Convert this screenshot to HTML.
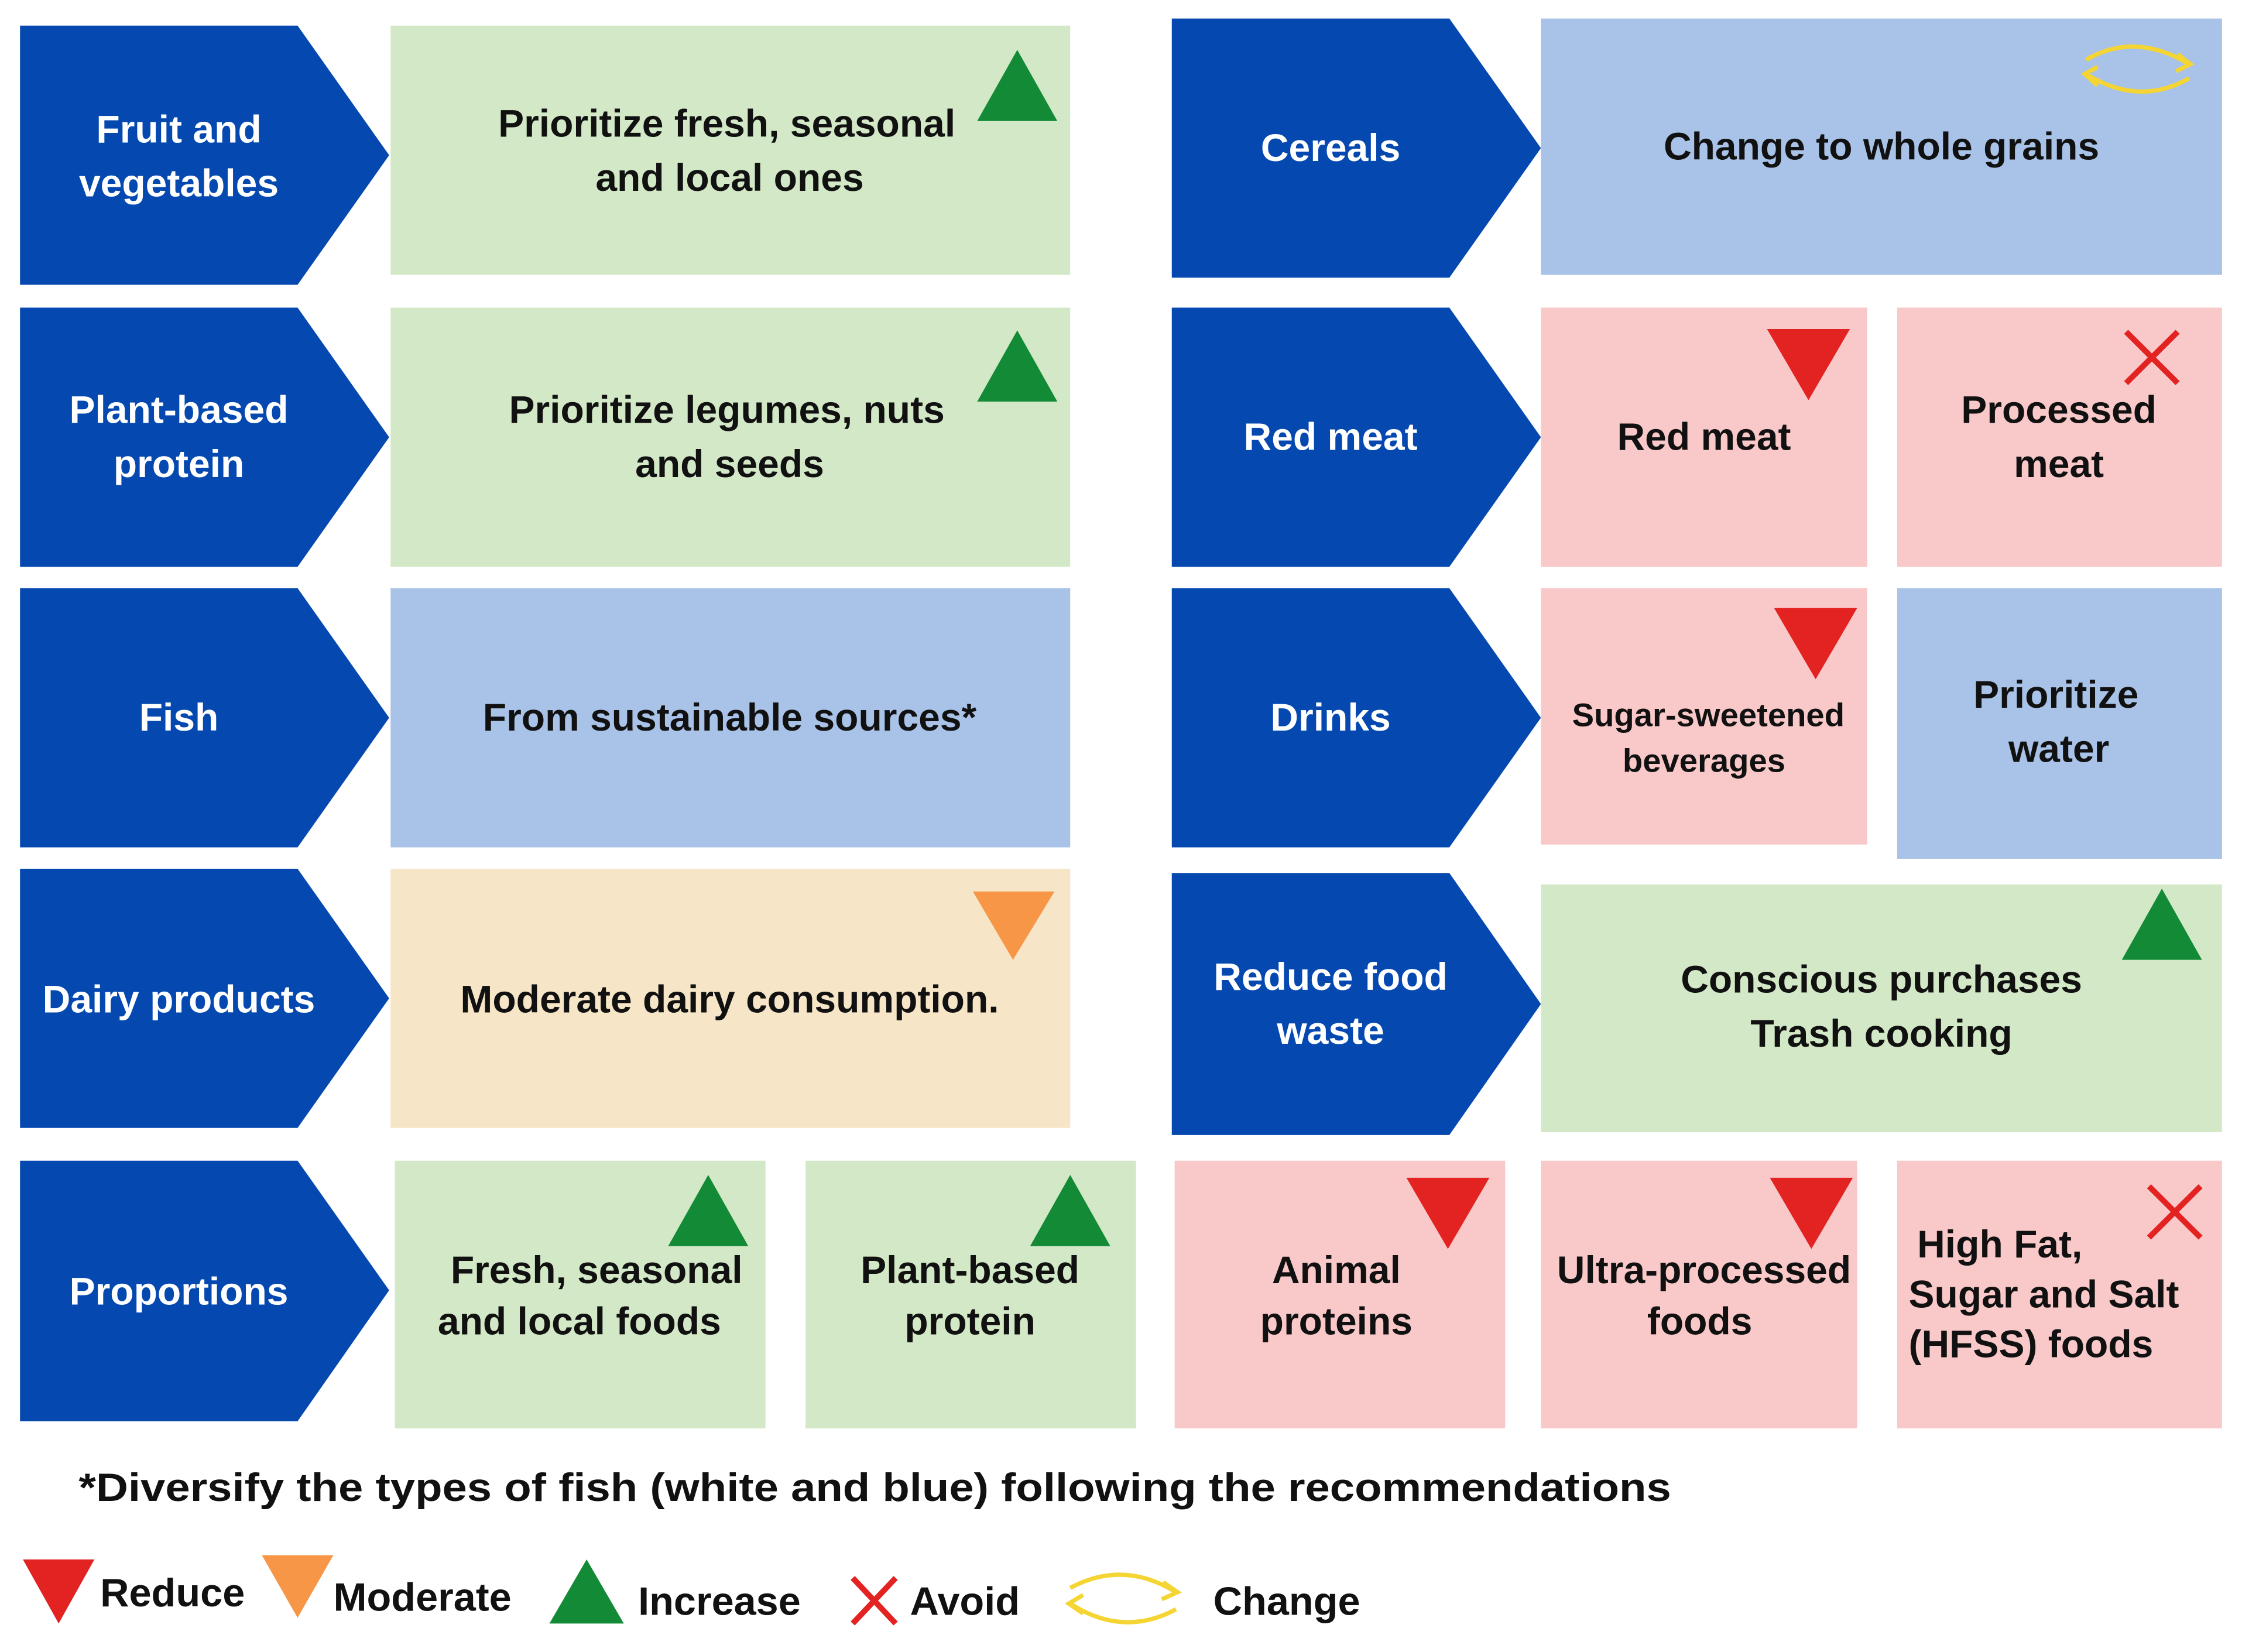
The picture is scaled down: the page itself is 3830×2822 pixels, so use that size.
<!DOCTYPE html>
<html><head><meta charset="utf-8"><style>
html,body{margin:0;padding:0;background:#fff}
svg{display:block}
text{font-family:"Liberation Sans",sans-serif;font-weight:bold;text-anchor:middle}
.w{fill:#fff;font-size:27px}
.k{fill:#111;font-size:27px}
</style></head><body>
<svg width="3830" height="2822" viewBox="0 0 1567 1160" preserveAspectRatio="none" xmlns="http://www.w3.org/2000/svg">
<defs>
<g id="up"><polygon points="0,50 28,0 56,50" fill="#138a36"/></g>
<g id="dn"><polygon points="0,0 58,0 29,50" fill="#e32222"/></g>
<g id="x"><path d="M0,0 L36,36 M36,0 L0,36" stroke="#e32222" stroke-width="4" fill="none"/></g>
</defs>
<g fill="#0549b0">
<polygon points="14,18 208,18 272,109 208,200 14,200"/>
<polygon points="14,216 208,216 272,307 208,398 14,398"/>
<polygon points="14,413 208,413 272,504 208,595 14,595"/>
<polygon points="14,610 208,610 272,701 208,792 14,792"/>
<polygon points="14,815 208,815 272,906 208,998 14,998"/>
<polygon points="819,13 1013,13 1077,104 1013,195 819,195"/>
<polygon points="819,216 1013,216 1077,307 1013,398 819,398"/>
<polygon points="819,413 1013,413 1077,504 1013,595 819,595"/>
<polygon points="819,613 1013,613 1077,705 1013,797 819,797"/>
</g>
<rect x="273" y="18" width="475" height="175" fill="#d3e8c6"/>
<rect x="1077" y="13" width="476" height="180" fill="#a8c3e7"/>
<rect x="273" y="216" width="475" height="182" fill="#d3e8c6"/>
<rect x="1077" y="216" width="228" height="182" fill="#f9c8c8"/>
<rect x="1326" y="216" width="227" height="182" fill="#f9c8c8"/>
<rect x="273" y="413" width="475" height="182" fill="#a8c3e7"/>
<rect x="1077" y="413" width="228" height="180" fill="#f9c8c8"/>
<rect x="1326" y="413" width="227" height="190" fill="#a8c3e7"/>
<rect x="273" y="610" width="475" height="182" fill="#f6e5c7"/>
<rect x="1077" y="621" width="476" height="174" fill="#d3e8c6"/>
<rect x="276" y="815" width="259" height="188" fill="#d3e8c6"/>
<rect x="563" y="815" width="231" height="188" fill="#d3e8c6"/>
<rect x="821" y="815" width="231" height="188" fill="#f9c8c8"/>
<rect x="1077" y="815" width="221" height="188" fill="#f9c8c8"/>
<rect x="1326" y="815" width="227" height="188" fill="#f9c8c8"/>

<text class="w" x="125" y="100">Fruit and</text><text class="w" x="125" y="138">vegetables</text>
<text class="w" x="125" y="297">Plant-based</text><text class="w" x="125" y="335">protein</text>
<text class="w" x="125" y="513">Fish</text>
<text class="w" x="125" y="711">Dairy products</text>
<text class="w" x="125" y="916">Proportions</text>
<text class="w" x="930" y="113">Cereals</text>
<text class="w" x="930" y="316">Red meat</text>
<text class="w" x="930" y="513">Drinks</text>
<text class="w" x="930" y="695">Reduce food</text><text class="w" x="930" y="733">waste</text>

<text class="k" x="508" y="96">Prioritize fresh, seasonal</text><text class="k" x="510" y="134">and local ones</text>
<text class="k" x="508" y="297">Prioritize legumes, nuts</text><text class="k" x="510" y="335">and seeds</text>
<text class="k" x="510" y="513">From sustainable sources*</text>
<text class="k" x="510" y="711">Moderate dairy consumption.</text>
<text class="k" x="1315" y="112">Change to whole grains</text>
<text class="k" x="1191" y="316">Red meat</text>
<text class="k" x="1439" y="297">Processed</text><text class="k" x="1439" y="335">meat</text>
<text class="k" x="1194" y="510" style="font-size:23px">Sugar-sweetened</text><text class="k" x="1191" y="542" style="font-size:23px">beverages</text>
<text class="k" x="1437" y="497">Prioritize</text><text class="k" x="1439" y="535">water</text>
<text class="k" x="1315" y="697">Conscious purchases</text><text class="k" x="1315" y="735">Trash cooking</text>
<text class="k" x="417" y="901">Fresh, seasonal</text><text class="k" x="405" y="937">and local foods</text>
<text class="k" x="678" y="901">Plant-based</text><text class="k" x="678" y="937">protein</text>
<text class="k" x="934" y="901">Animal</text><text class="k" x="934" y="937">proteins</text>
<text class="k" x="1191" y="901">Ultra-processed</text><text class="k" x="1188" y="937">foods</text>
<text class="k" x="1340" y="883" style="text-anchor:start">High Fat,</text>
<text class="k" x="1334" y="918" style="text-anchor:start">Sugar and Salt</text>
<text class="k" x="1334" y="953" style="text-anchor:start">(HFSS) foods</text>

<use href="#up" x="683" y="35"/>
<use href="#up" x="683" y="232"/>
<polygon points="680,626 737,626 708,674" fill="#f79646"/>
<use href="#up" x="1483" y="624"/>
<use href="#up" x="467" y="825"/>
<use href="#up" x="720" y="825"/>
<use href="#dn" x="1235" y="231"/>
<use href="#x" x="1486" y="233"/>
<use href="#dn" x="1240" y="427"/>
<use href="#dn" x="983" y="827"/>
<use href="#dn" x="1237" y="827"/>
<use href="#x" x="1502" y="833"/>
<g fill="none" stroke="#f5d533" stroke-width="3">
<path d="M1458,42 Q1492,22 1530,45"/><path d="M1530,55 Q1495,75 1458,52"/>
<path d="M1522,38 L1531,45 L1521,50"/><path d="M1466,47 L1457,52 L1466,60"/>
</g>

<text x="55" y="1054" textLength="1113" lengthAdjust="spacingAndGlyphs" style="text-anchor:start;font-size:28px;fill:#111">*Diversify the types of fish (white and blue) following the recommendations</text>

<polygon points="16,1095 66,1095 41,1140" fill="#e32222"/>
<text x="70" y="1128" style="text-anchor:start;font-size:28px;fill:#111">Reduce</text>
<polygon points="183,1092 233,1092 208,1136" fill="#f79646"/>
<text x="233" y="1131" style="text-anchor:start;font-size:28px;fill:#111">Moderate</text>
<polygon points="384,1140 410,1095 436,1140" fill="#138a36"/>
<text x="446" y="1134" style="text-anchor:start;font-size:28px;fill:#111">Increase</text>
<path d="M596,1108 L626,1140 M626,1108 L596,1140" stroke="#e32222" stroke-width="4"/>
<text x="636" y="1134" style="text-anchor:start;font-size:28px;fill:#111">Avoid</text>
<g fill="none" stroke="#f5d533" stroke-width="3">
<path d="M748,1115 Q785,1095 822,1118"/><path d="M822,1130 Q785,1150 748,1126"/>
<path d="M813,1111 L823,1118 L812,1123"/><path d="M757,1120 L747,1126 L757,1133"/>
</g>
<text x="848" y="1134" style="text-anchor:start;font-size:28px;fill:#111">Change</text>
</svg>
</body></html>
